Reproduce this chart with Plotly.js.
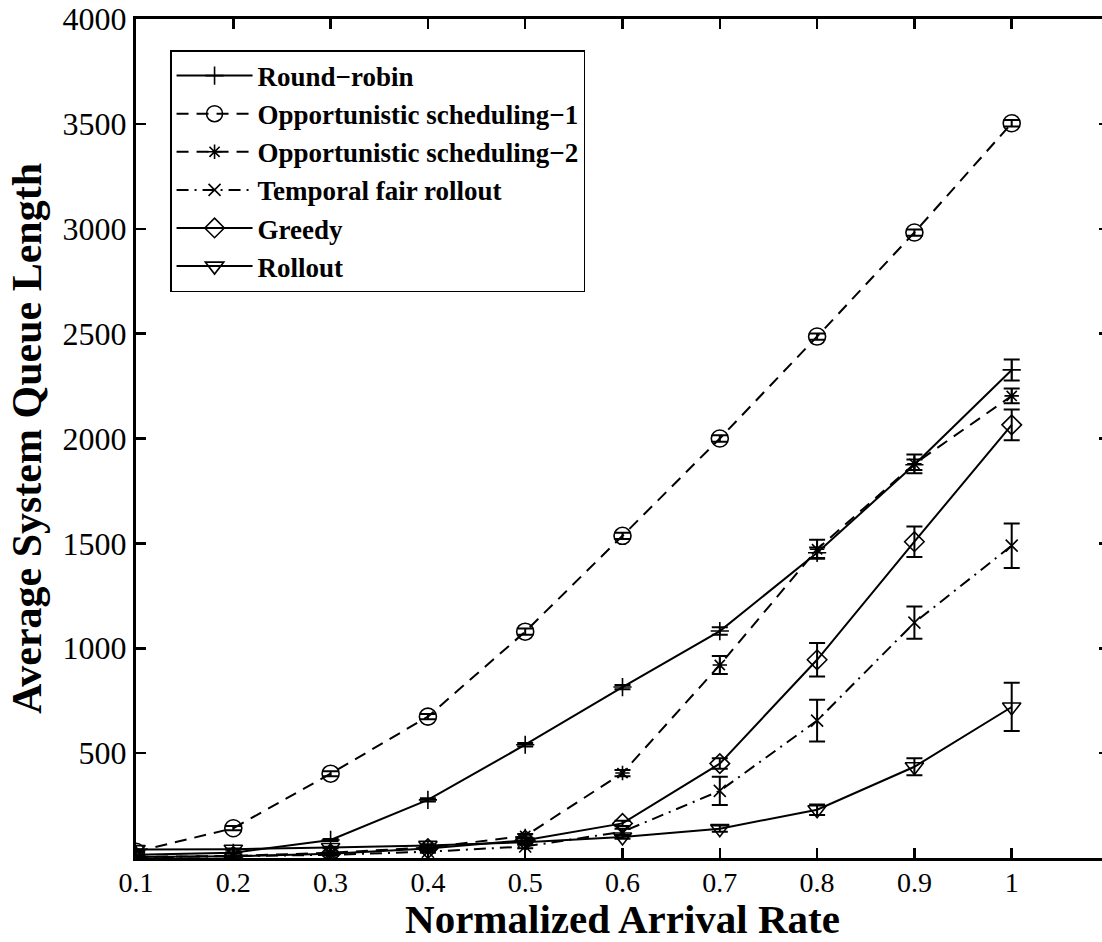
<!DOCTYPE html>
<html>
<head>
<meta charset="utf-8">
<script src="https://cdn.plot.ly/plotly-3.0.1.min.js"></script>
<style>
html, body { margin: 0; padding: 0; overflow: hidden; background: #fff; }
#chart { width: 1110px; height: 942px; }
</style>
</head>
<body>
<div id="chart"></div>
<script>
// Normalized arrival rate (x categories)
const arrivalRate = [0.1, 0.2, 0.3, 0.4, 0.5, 0.6, 0.7, 0.8, 0.9, 1.0];
const xTickLabels = ["0.1", "0.2", "0.3", "0.4", "0.5", "0.6", "0.7", "0.8", "0.9", "1"];
const yTickVals = [500, 1000, 1500, 2000, 2500, 3000, 3500, 4000];

// Series values (average system queue length) and error bar half-widths
const seriesNames = ["Round\u2212robin", "Opportunistic scheduling\u22121", "Opportunistic scheduling\u22122",
                     "Temporal fair rollout", "Greedy", "Rollout"];
const roundRobin     = [15, 25, 86, 277, 540, 815, 1082, 1455, 1875, 2327];
const roundRobinErr  = [2, 3, 5, 8, 8, 10, 18, 25, 25, 50];
const opp1           = [30, 142, 402, 674, 1079, 1536, 2000, 2486, 2982, 3503];
const opp1Err        = [3, 10, 12, 12, 15, 15, 15, 15, 15, 15];
const opp2           = [5, 10, 25, 50, 105, 405, 920, 1472, 1879, 2203];
const opp2Err        = [1, 2, 3, 5, 10, 15, 43, 45, 45, 35];
const tempFair       = [3, 8, 15, 30, 55, 125, 320, 655, 1122, 1489];
const tempFairErr    = [1, 2, 3, 5, 8, 15, 67, 100, 77, 106];
const greedy         = [5, 8, 20, 45, 85, 165, 450, 945, 1508, 2065];
const greedyErr      = [1, 2, 3, 5, 8, 12, 25, 80, 73, 73];
const rollout        = [40, 42, 50, 60, 75, 100, 140, 230, 435, 720];
const rolloutErr     = [2, 3, 4, 5, 6, 8, 15, 25, 40, 115];

const FONT = "Liberation Serif";

function trace(name, y, err, symbol, size, dash) {
  return {
    x: arrivalRate, y: y, name: name, type: "scatter", mode: "lines+markers",
    line: { color: "#000", width: 2, dash: dash },
    marker: { symbol: symbol, size: size, color: "#000", line: { color: "#000", width: 1.6 } },
    error_y: { type: "data", array: err, visible: true, color: "#000", thickness: 2, width: 8 }
  };
}

const data = [
  trace(seriesNames[0], roundRobin, roundRobinErr, "cross-thin-open", 13, "solid"),
  trace(seriesNames[1], opp1, opp1Err, "circle-open", 17, "12px,8px"),
  trace(seriesNames[2], opp2, opp2Err, "asterisk-open", 12, "12px,8px"),
  trace(seriesNames[3], tempFair, tempFairErr, "x-thin-open", 12, "12px,6px,2px,6px"),
  trace(seriesNames[4], greedy, greedyErr, "diamond-open", 15, "solid"),
  trace(seriesNames[5], rollout, rolloutErr, "triangle-down-open", 16, "solid")
];

const layout = {
  width: 1110, height: 942,
  margin: { l: 136, r: 1, t: 19, b: 84 },
  paper_bgcolor: "#fff", plot_bgcolor: "#fff",
  font: { family: FONT, color: "#000" },
  showlegend: true,
  legend: {
    x: 0.035, y: 0.963, xanchor: "left", yanchor: "top",
    bgcolor: "#fff", bordercolor: "#000", borderwidth: 1.5,
    font: { family: FONT, size: 27, color: "#000", weight: "bold" },
    itemwidth: 76, tracegroupgap: 0
  },
  xaxis: {
    range: [0.1, 1.1],
    tickmode: "array", tickvals: arrivalRate, ticktext: xTickLabels,
    ticks: "inside", ticklen: 10, tickwidth: 2.5, tickcolor: "#000",
    showline: true, linecolor: "#000", linewidth: 3, mirror: "ticks",
    showgrid: false, zeroline: false, ticklabelstandoff: -3,
    tickfont: { family: FONT, size: 28, color: "#000" },
    title: { text: "Normalized Arrival Rate", font: { family: FONT, size: 41, color: "#000", weight: "bold" }, standoff: 10 }
  },
  yaxis: {
    range: [0, 4000],
    tickmode: "array", tickvals: yTickVals, ticktext: yTickVals.map(String),
    ticks: "inside", ticklen: 10, tickwidth: 2.5, tickcolor: "#000",
    showline: true, linecolor: "#000", linewidth: 3, mirror: "ticks",
    showgrid: false, zeroline: false,
    tickfont: { family: FONT, size: 32, color: "#000" },
    title: { text: "Average System Queue Length", font: { family: FONT, size: 42, color: "#000", weight: "bold" }, standoff: 8 }
  }
};

Plotly.newPlot("chart", data, layout, { displayModeBar: false, staticPlot: true });
</script>
</body>
</html>
